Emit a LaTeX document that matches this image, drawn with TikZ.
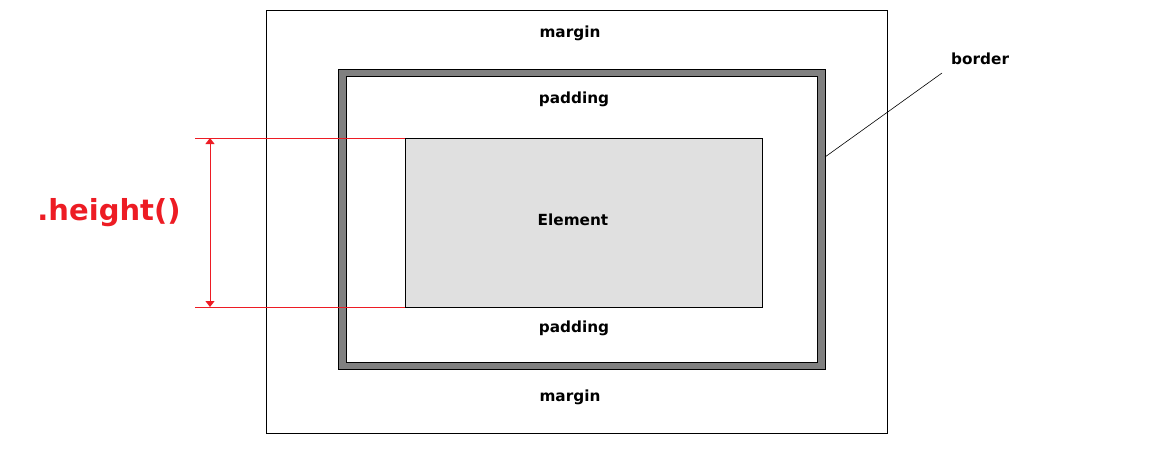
\documentclass[tikz,border=0pt]{standalone}
\usepackage{fontspec}
\setmainfont{DejaVu Sans}
\usetikzlibrary{arrows.meta}
\definecolor{hred}{RGB}{237,28,36}
\definecolor{bordergray}{RGB}{128,128,128}
\definecolor{elemgray}{RGB}{224,224,224}
\tikzset{
  lbl/.style={font=\bfseries\fontsize{15.3}{17}\selectfont, inner sep=0pt},
  boxline/.style={line width=1pt},
  measure/.style={draw=hred, line width=0.9pt}
}

\begin{document}
\begin{tikzpicture}[x=1pt, y=-1pt]
        \useasboundingbox (0,0) rectangle (1157,456);
        \draw[boxline] (266,10) rectangle (887,433);
        \draw[boxline, fill=bordergray] (338,69) rectangle (825,369);
        \draw[boxline, fill=white] (346,76) rectangle (817,362);
        \node[draw, boxline, fill=elemgray, anchor=north west, minimum width=357pt,
          minimum height=169pt, inner sep=0pt, outer sep=0pt] (elem) at (405,138) {};
        \node[lbl] (eltxt) at (573,220) {Element};
        \node[lbl] (mtop) at (570,33) {margin};
        \node[lbl] (ptop) at (574,99) {padding};
        \node[lbl] (pbot) at (574,328) {padding};
        \node[lbl] (mbot) at (570,397) {margin};
        \node[lbl, anchor=west] (bord) at (951,59) {border};
        \coordinate (bpt) at (825,157);
        \coordinate (lend) at (942,73);
        \draw[line width=0.6pt] (bpt) -- (lend);
        \coordinate (htop) at (195,138);
        \coordinate (hbot) at (195,307);
        \coordinate (atop) at (210,138);
        \coordinate (abot) at (210,307);
        \draw[measure] (htop) -- (elem.north west);
        \draw[measure] (hbot) -- (elem.south west);
        \draw[measure, {Triangle[width=9pt,length=6pt]}-{Triangle[width=9pt,length=6pt]}] (atop) -- (abot);
        \node[text=hred, font=\bfseries\fontsize{29}{32}\selectfont, inner sep=0pt] (hlbl) at (109,213) {.height()};
      \end{tikzpicture}
\end{document}
